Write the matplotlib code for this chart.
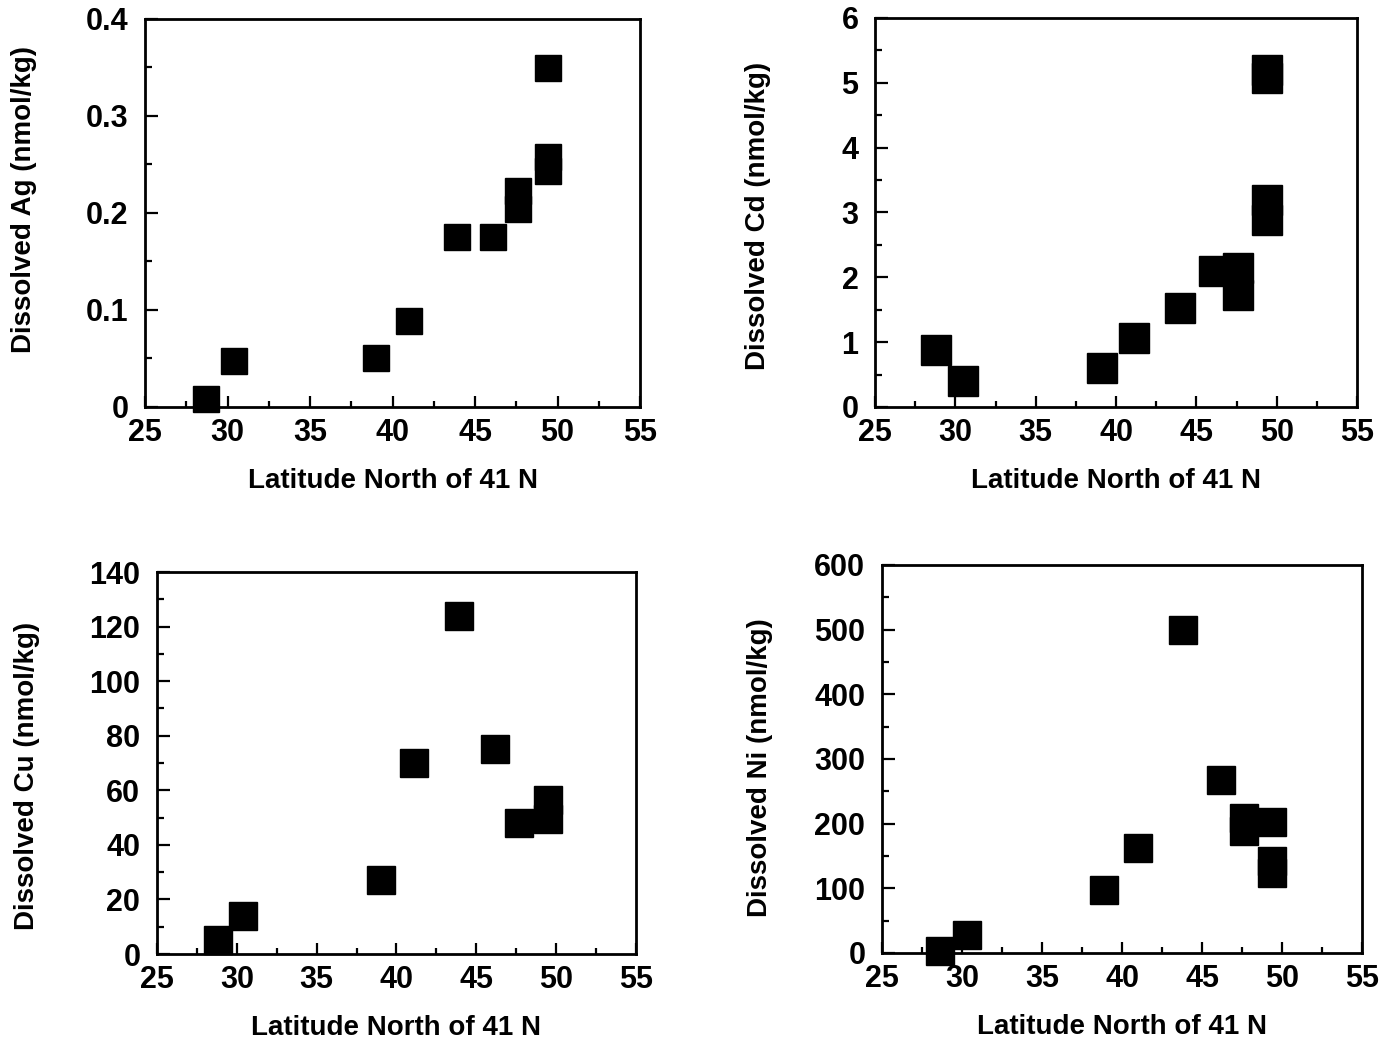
import matplotlib
matplotlib.use("Agg")
import matplotlib.pyplot as plt
from matplotlib.ticker import MultipleLocator

plt.rcParams["font.family"] = ["Liberation Sans", "DejaVu Sans"]
plt.rcParams["font.weight"] = "bold"
plt.rcParams["axes.labelweight"] = "bold"

# station latitudes and dissolved metal concentrations (nmol/kg)
lat_ag = [28.7, 30.4, 39.0, 41.0, 43.9, 46.1, 47.6, 47.6, 49.4, 49.4, 49.4]
ag = [0.008, 0.047, 0.050, 0.089, 0.175, 0.175, 0.223, 0.204, 0.349, 0.258, 0.243]

lat_cd = [28.8, 30.5, 39.1, 41.1, 44.0, 46.1, 47.6, 47.6, 49.4, 49.4, 49.4, 49.4]
cd = [0.88, 0.40, 0.60, 1.06, 1.53, 2.09, 2.15, 1.73, 3.19, 2.89, 5.2, 5.08]

lat_cu = [28.8, 30.4, 39.0, 41.1, 43.9, 46.2, 47.7, 49.5, 49.5]
cu = [5, 14, 27, 70, 124, 75, 48, 56.5, 49.5]

lat_ni = [28.6, 30.3, 38.9, 41.0, 43.8, 46.2, 47.6, 47.6, 49.4, 49.4, 49.4]
ni = [3, 28, 97, 162, 500, 267, 209, 189, 203, 142, 124]

x_ticks = [25, 30, 35, 40, 45, 50, 55]
ag_ticks = [0, 0.1, 0.2, 0.3, 0.4]
ag_ticklabels = ["0", "0.1", "0.2", "0.3", "0.4"]

xlabel = "Latitude North of 41 N"

panels = [
    # x, y, ylabel, ymax, major, minor, axes rect, marker size, ylabel pos
    (lat_ag, ag, "Dissolved Ag (nmol/kg)", 0.4, 0.1, 0.05,
     [0.1044, 0.6079, 0.3564, 0.3738], 18.5, -0.218, 0.536),
    (lat_cd, cd, "Dissolved Cd (nmol/kg)", 6, 1, 0.5,
     [0.6300, 0.6079, 0.3470, 0.3748], 21, -0.216, 0.49),
    (lat_cu, cu, "Dissolved Cu (nmol/kg)", 140, 20, 10,
     [0.1130, 0.0809, 0.3449, 0.3680], 20, -0.244, 0.466),
    (lat_ni, ni, "Dissolved Ni (nmol/kg)", 600, 100, 50,
     [0.6350, 0.0819, 0.3456, 0.3738], 20, -0.227, 0.479),
]

fig = plt.figure(figsize=(13.89, 10.38), dpi=100)

for i, (x, y, ylab, ymax, major, minor, rect, ms, ylx, yly) in enumerate(panels):
    ax = fig.add_axes(rect)
    ax.plot(x, y, "s", color="black", ms=ms, mec="black", clip_on=False, zorder=3)
    ax.set_xlim(25, 55)
    ax.set_ylim(0, ymax)
    ax.set_xticks(x_ticks)
    ax.xaxis.set_minor_locator(MultipleLocator(2.5))
    ax.yaxis.set_major_locator(MultipleLocator(major))
    ax.yaxis.set_minor_locator(MultipleLocator(minor))
    if i == 0:
        ax.set_yticks(ag_ticks)
        ax.set_yticklabels(ag_ticklabels)
    for sp in ax.spines.values():
        sp.set_linewidth(2)
    ax.tick_params(which="both", direction="in", top=False, right=False,
                   labelsize=22, width=1.6)
    ax.tick_params(axis="x", which="major", length=8, pad=8)
    ax.tick_params(axis="x", which="minor", length=4)
    ax.tick_params(axis="y", which="major", length=9, pad=12)
    ax.tick_params(axis="y", which="minor", length=5)
    ax.set_xlabel(xlabel, fontsize=20, fontweight="bold", labelpad=14)
    ax.set_ylabel(ylab, fontsize=20, fontweight="bold")
    ax.yaxis.set_label_coords(ylx, yly)

fig.savefig("out.png", dpi=100)
